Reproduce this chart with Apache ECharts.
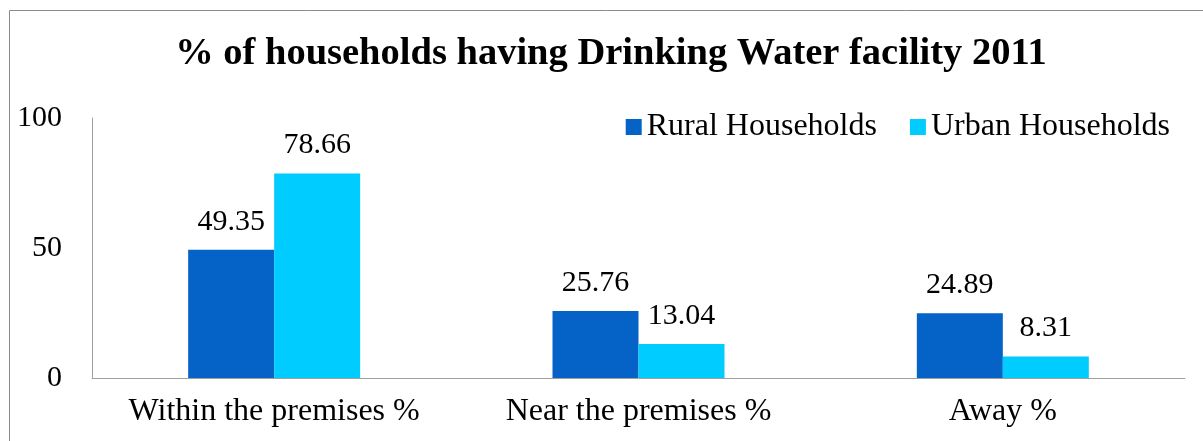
<!DOCTYPE html>
<html>
<head>
<meta charset="utf-8">
<script src="https://cdn.jsdelivr.net/npm/echarts@6/dist/echarts.min.js"></script>
<style>
html,body{margin:0;padding:0;background:#fff;}
#chart{width:1203px;height:441px;}
</style>
</head>
<body>
<div id="chart"></div>
<script>
const titleText = '% of households having Drinking Water facility 2011';
const categories = ['Within the premises %', 'Near the premises %', 'Away %'];
const seriesNames = ['Rural Households', 'Urban Households'];
const ruralValues = [49.35, 25.76, 24.89];
const urbanValues = [78.66, 13.04, 8.31];
const yTicks = [0, 50, 100];

const font = '"Liberation Serif", "Times New Roman", serif';
const chart = echarts.init(document.getElementById('chart'));
chart.setOption({
  backgroundColor: '#ffffff',
  animation: false,
  graphic: [{
    type: 'rect',
    shape: {x: 9.5, y: 10.5, width: 1300, height: 500},
    style: {fill: 'none', stroke: '#8c8c8c', lineWidth: 1},
    silent: true
  }],
  title: {
    text: titleText,
    left: 606,
    textAlign: 'center',
    top: 30,
    textStyle: {fontFamily: font, fontSize: 38.5, fontWeight: 'bold', color: '#000'}
  },
  legend: {
    data: seriesNames,
    right: 28,
    top: 106,
    itemWidth: 16,
    itemHeight: 16,
    itemGap: 33,
    icon: 'rect',
    textStyle: {fontFamily: font, fontSize: 32, color: '#000'}
  },
  grid: {left: 92, right: 18, top: 118, bottom: 63, containLabel: false},
  xAxis: {
    type: 'category',
    data: categories,
    axisLine: {show: true, lineStyle: {color: '#a0a0a0', width: 1}},
    axisTick: {show: false},
    axisLabel: {interval: 0, fontFamily: font, fontSize: 32, color: '#000', margin: 18}
  },
  yAxis: {
    type: 'value',
    min: yTicks[0],
    max: yTicks[yTicks.length - 1],
    interval: yTicks[1] - yTicks[0],
    splitLine: {show: false},
    axisLine: {show: true, lineStyle: {color: '#a0a0a0', width: 1}},
    axisTick: {show: false},
    axisLabel: {fontFamily: font, fontSize: 30, color: '#000', margin: 30}
  },
  series: [
    {
      name: seriesNames[0],
      type: 'bar',
      data: ruralValues,
      barWidth: 86,
      barGap: '0%',
      itemStyle: {color: '#0563C8'},
      label: {show: true, position: 'top', distance: 13, fontFamily: font, fontSize: 30, color: '#000'}
    },
    {
      name: seriesNames[1],
      type: 'bar',
      data: urbanValues,
      barWidth: 86,
      barGap: '0%',
      itemStyle: {color: '#00CCFF'},
      label: {show: true, position: 'top', distance: 13, fontFamily: font, fontSize: 30, color: '#000'}
    }
  ]
});
</script>
</body>
</html>
